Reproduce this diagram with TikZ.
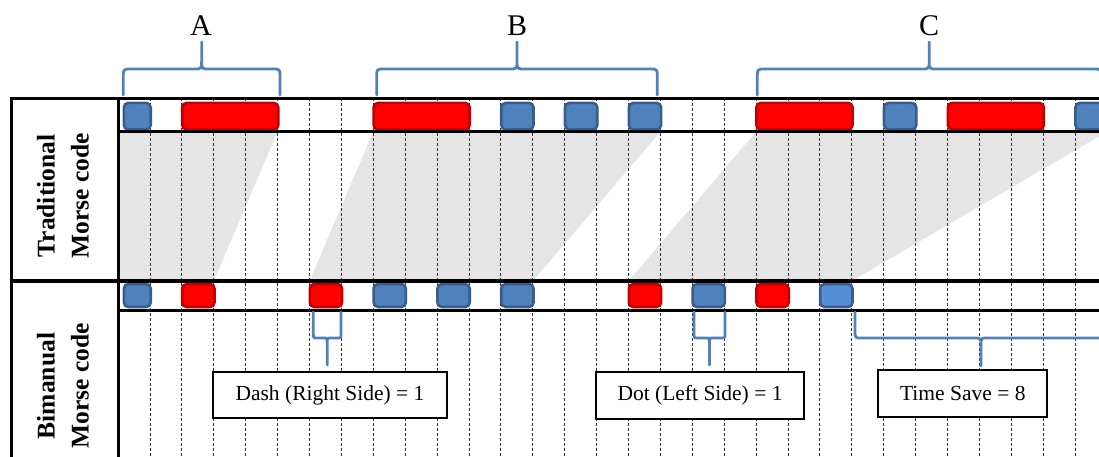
\documentclass[tikz,border=0pt]{standalone}
\usepackage{fontspec}
\setmainfont{Liberation Serif}
\begin{document}
\begin{tikzpicture}[x=1pt,y=-1pt,
  grid/.style={line width=3.3pt,black},
  slot/.style={dash pattern=on 3pt off 2pt,line width=0.9pt,black!80},
  shade/.style={fill=black!10,draw=none},
  dotsty/.style={fill=dotblue,draw=dotedge,line width=2.6pt,rounded corners=4.5pt},
  litesty/.style={fill=dotlite,draw=dotedge,line width=2.6pt,rounded corners=4.5pt},
  dashsty/.style={fill=red,draw=dashedge,line width=2.6pt,rounded corners=4.5pt},
  bracesty/.style={draw=braceblue,line width=2.8pt,line cap=round,line join=round},
  letter/.style={font=\fontsize{30}{34}\selectfont},
  rowlabel/.style={font=\fontsize{25.5}{34}\selectfont\bfseries,align=center,rotate=90},
  notebox/.style={draw,line width=1.8pt,fill=white,font=\fontsize{21.5}{24}\selectfont,
    inner sep=0pt,minimum height=46.6pt}]
\definecolor{dotblue}{HTML}{4F81BD}
\definecolor{dotlite}{HTML}{558ED5}
\definecolor{dotedge}{HTML}{385D8A}
\definecolor{dashedge}{HTML}{C00000}
\definecolor{braceblue}{HTML}{4F81BD}
% left edge of time cell k
\def\gx#1{(118.1+31.9*(#1))}
% curly brace: x1, x2, arm end y, bar y, tip y, direction (+1 tip up / -1 tip down), corner radius
\newcommand\curlybrace[7]{%
  \draw[bracesty] ({#1},{#3}) -- ({#1},{#4+#7*(#6)}) .. controls ({#1},{#4}) .. ({#1+#7},{#4})
     -- ({(#1+#2)/2-#7},{#4}) .. controls ({(#1+#2)/2},{#4}) .. ({(#1+#2)/2},{#4-#7*(#6)})
     -- ({(#1+#2)/2},{#5})
     ({(#1+#2)/2},{#4-#7*(#6)}) .. controls ({(#1+#2)/2},{#4}) .. ({(#1+#2)/2+#7},{#4})
     -- ({#2-#7},{#4}) .. controls ({#2},{#4}) .. ({#2},{#4+#7*(#6)}) -- ({#2},{#3});
}
% one-row box: row top, row bottom, first cell, cell count, style
\newcommand\cellbox[5]{%
  \draw[#5] ({max(\gx{#3}+0.3,123.9)},{#1}) rectangle ({\gx{#3+#4}+0.7},{#2});
}
\useasboundingbox (0,0) rectangle (1099,457);
\clip (0,0) rectangle (1099,457);

% compression wedges between the two codings
\fill[shade] ({\gx{0}},131.7) -- ({\gx{5}},131.7) -- ({\gx{3}},281) -- ({\gx{0}},281) -- cycle;
\fill[shade] ({\gx{8}},131.7) -- ({\gx{17}},131.7) -- ({\gx{13}},281) -- ({\gx{6}},281) -- cycle;
\fill[shade] ({\gx{20}},131.7) -- ({\gx{31}},131.7) -- ({\gx{23}},281) -- ({\gx{16}},281) -- cycle;

% time-unit separators
\foreach \k in {1,...,30} {\draw[slot] ({\gx{\k}},98.3) -- ({\gx{\k}},457);}

% traditional code: A .-  B -...  C -.-.
\foreach \k in {0,12,14,16,24,30} {\cellbox{102.9}{129.5}{\k}{1}{dotsty}}
\foreach \k in {2,8,20,26} {\cellbox{102.9}{129.5}{\k}{3}{dashsty}}

% bimanual code
\foreach \k in {0,8,10,12,18} {\cellbox{284}{307}{\k}{1}{dotsty}}
\cellbox{284}{307}{22}{1}{litesty}
\foreach \k in {2,6,16,20} {\cellbox{284}{307}{\k}{1}{dashsty}}

% table frame
\draw[grid,line join=miter] (11.7,457) -- (11.7,98.3) -- (1099,98.3);
\draw[grid] (118.6,98.3) -- (118.6,457);
\draw[grid] (118.6,131.7) -- (1099,131.7);
\draw[grid] (10,281) -- (1099,281);
\draw[grid] (118.6,310.7) -- (1099,310.7);

% row headings
\node[rowlabel] (trad) at (63,196) {Traditional\\Morse code};
\node[rowlabel] (bim) at (63,386) {Bimanual\\Morse code};

% letter braces
\curlybrace{123.3}{280}{95}{69}{42}{1}{8}
\curlybrace{376.7}{657.3}{95}{69}{42}{1}{8}
\curlybrace{757.3}{1101}{95}{69}{42}{1}{8}
\node[letter] (la) at (201,25.5) {A};
\node[letter] (lb) at (517,25.5) {B};
\node[letter] (lc) at (929,25.5) {C};

% annotation braces below the bimanual row
\curlybrace{313.3}{341}{312}{338}{365}{-1}{4.5}
\curlybrace{694}{725}{312}{338}{365}{-1}{4.5}
\curlybrace{855}{1107}{312}{338}{366}{-1}{7}

\node[notebox,minimum width=234.6pt] (dash) at (330,395) {Dash (Right Side) = 1};
\node[notebox,minimum width=208.3pt] (dot) at (700,395.3) {Dot (Left Side) = 1};
\node[notebox,minimum width=169pt] (save) at (962.8,393.3) {Time Save = 8};
\end{tikzpicture}
\end{document}
